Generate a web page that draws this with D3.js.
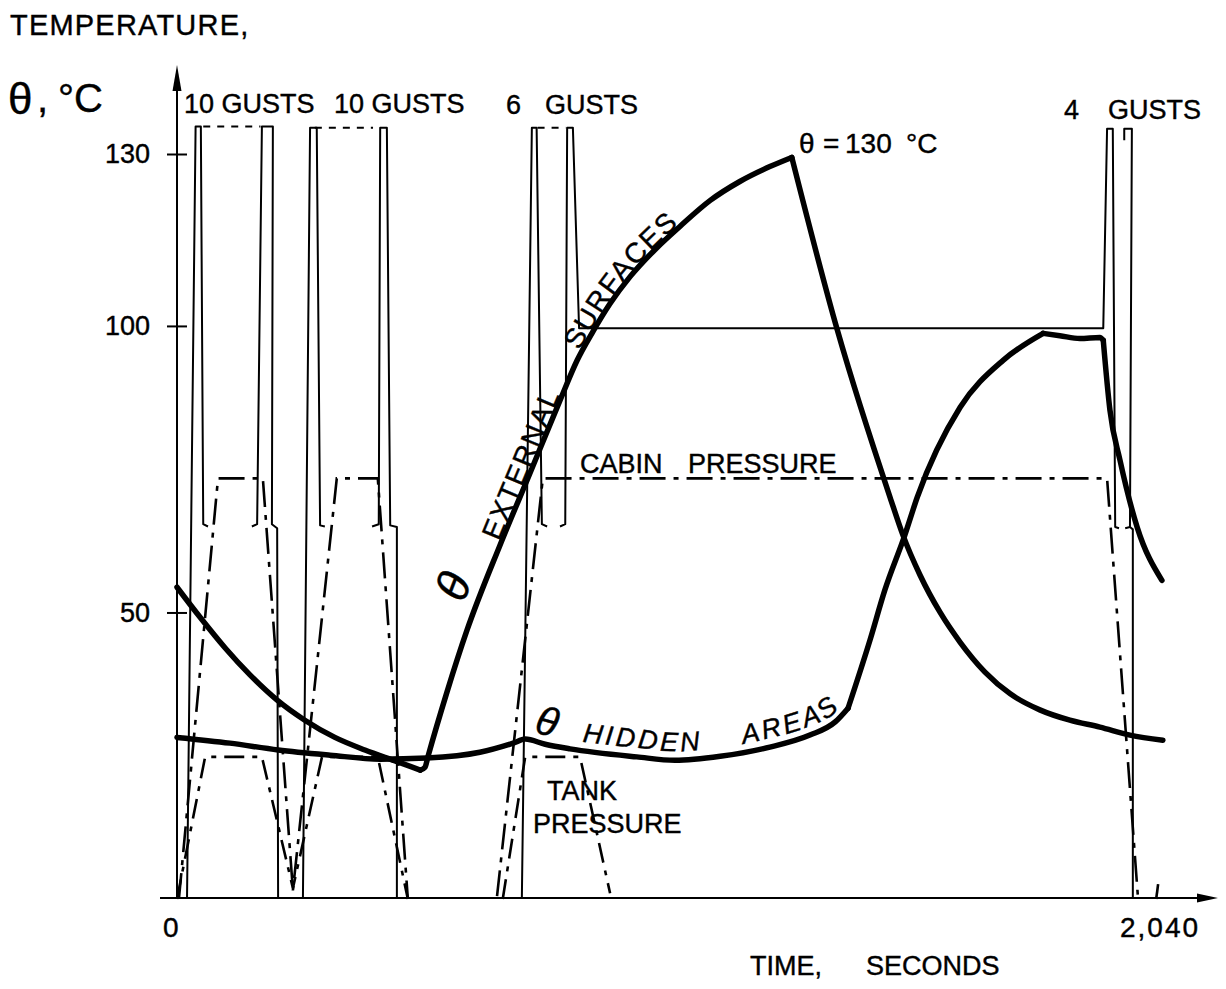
<!DOCTYPE html>
<html>
<head>
<meta charset="utf-8">
<script src="https://cdnjs.cloudflare.com/ajax/libs/d3/7.8.5/d3.min.js"></script>
<style>
  body { margin: 0; background: #fff; }
  svg { display: block; }
  text { font-family: "Liberation Sans", Arial, sans-serif; fill: #000; stroke: #000; stroke-width: 0.4px; }
</style>
</head>
<body>
<div class="chart"></div>
<script>
// Axis ticks
var timeTicks = [0, 2040];
var tempTicks = [50, 100, 130];

// Temperature curves [time s, temperature C]
var extCooling = [[0, 54.4], [48, 49.2], [101, 43.8], [153, 39.1], [210, 34.7], [268, 31.2], [331, 28.2],
  [394, 26.0], [457, 24.1], [510, 22.5]];
var extHeating = [[510, 22.5], [520, 23.0], [526, 24.8], [566, 36.1], [608, 46.9], [677, 61.7], [740, 74.3],
  [803, 87.0], [839, 94.0], [872, 99.0], [908, 103.9], [950, 108.6], [1002, 113.3], [1055, 117.4],
  [1118, 121.9], [1180, 125.2], [1243, 127.8], [1289, 129.4]];
var extFinal = [[1289, 129.4], [1384, 99.4], [1495, 70.1], [1522, 63.5], [1558, 56.5], [1600, 50.0],
  [1642, 44.8], [1694, 39.6], [1747, 35.8], [1809, 33.0], [1872, 31.2], [1935, 30.0], [1998, 28.6], [2067, 27.7]];

var hiddenA = [[0, 28.2], [111, 27.2], [212, 26.0], [321, 25.1], [426, 24.4], [524, 24.6], [635, 25.6],
  [705, 27.2], [730, 27.9], [772, 27.0], [824, 26.2], [964, 24.8], [1044, 24.2], [1139, 24.9], [1243, 26.5],
  [1327, 28.6], [1380, 30.9], [1407, 33.3]];
var hiddenB = [[1407, 33.3], [1453, 45.2], [1484, 53.9], [1526, 63.5], [1552, 70.1], [1642, 85.8], [1732, 94.0], [1816, 98.7]];
var hiddenC = [[1816, 98.7], [1851, 98.3], [1893, 97.8], [1935, 98.0], [1942, 97.5]];
var hiddenD = [[1942, 97.5], [1956, 85.3], [1977, 76.6], [2013, 64.9], [2065, 55.6]];

// Gust load envelopes (drawn on the same grid)
var gustA1 = [[21, 0], [39, 134.8], [50, 134.8], [55, 65.4], [65, 65.0]];
var gustA2 = [[157, 65.0], [168, 65.4], [178, 134.8], [201, 134.8], [199, 65.4], [210, 64.7], [212, 0]];
var gustB1 = [[264, 0], [279, 134.6], [293, 134.6], [300, 65.2], [310, 65.0]];
var gustB2 = [[409, 65.0], [423, 65.4], [426, 134.6], [440, 134.6], [447, 65.2], [461, 64.9], [461, 0]];
var gustC1 = [[723, 0], [744, 134.6], [754, 134.6], [765, 65.4], [776, 65.0]];
var gustC2 = [[803, 65.0], [814, 65.4], [818, 134.6], [830, 134.6], [843, 99.6], [1942, 99.6],
  [1950, 134.4], [1962, 134.4], [1967, 64.9], [1975, 64.7]];
var gustD2 = [[1986, 132.4], [1986, 134.4], [2002, 134.4], [1998, 64.9], [1988, 64.7]];
var gustD3 = [[1998, 64.9], [2004, 64.5], [2004, 0]];

// Repeated gusts (dashed tops)
var repeatA = [[55, 134.8], [175, 134.8]];
var repeatB = [[289, 134.6], [411, 134.6]];
var repeatC = [[756, 134.6], [815, 134.6]];

// Pressures
var cabinFlights = [[4, 0], [86, 73.4], [180, 73.4], [243, 1.5], [335, 73.4], [421, 73.4], [484, 0]];
var cabinLast = [[671, 0.5], [767, 73.4], [1950, 73.4], [2015, 0]];
var tankFlights = [[0, 0], [59, 24.8], [178, 24.8], [243, 1.9], [304, 24.8], [421, 24.8], [484, 0]];
var tankLast = [[683, 0], [730, 24.8], [845, 24.8], [908, 1]];
var tankEnd = [[2053, 0], [2057, 2.6]];

// SVG area
var svgWidth = 1226;
var svgHeight = 989;
var margin = { top: 154, right: 76, bottom: 90, left: 177 };
var width = svgWidth - margin.left - margin.right;
var height = svgHeight - margin.top - margin.bottom;

var svg = d3.select(".chart")
  .append("svg")
  .attr("width", svgWidth)
  .attr("height", svgHeight);

var chartGroup = svg.append("g")
  .attr("transform", `translate(${margin.left}, ${margin.top})`);

var x = d3.scaleLinear().domain([0, 2040]).range([0, width]);
var y = d3.scaleLinear().domain([0, 130]).range([height, 0]);

var line = d3.line().x(d => x(d[0])).y(d => y(d[1]));
var smooth = d3.line().x(d => x(d[0])).y(d => y(d[1])).curve(d3.curveMonotoneX);

// axes
var leftAxis = d3.axisLeft(y).tickValues(tempTicks).tickSize(10).tickPadding(17);
var yAxis = chartGroup.append("g").call(leftAxis);
yAxis.select(".domain").remove();
yAxis.selectAll(".tick line").attr("x1", 10).attr("stroke", "#000").attr("stroke-width", 2);
yAxis.selectAll(".tick text").style("font-size", "27px").attr("fill", "#000");

chartGroup.append("line")
  .attr("x1", 0).attr("x2", 0).attr("y1", height).attr("y2", -80)
  .attr("stroke", "#000").attr("stroke-width", 2);
chartGroup.append("path")
  .attr("d", "M0,-89 L-4.5,-63 L4.5,-63 Z").attr("fill", "#000");

chartGroup.append("line")
  .attr("x1", -17).attr("x2", x(2040) + 60).attr("y1", height - 1).attr("y2", height - 1)
  .attr("stroke", "#000").attr("stroke-width", 2);
chartGroup.append("path")
  .attr("d", `M${x(2040) + 68},${height - 1} L${x(2040) + 47},${height - 5.5} L${x(2040) + 47},${height + 3.5} Z`)
  .attr("fill", "#000");

chartGroup.selectAll(".xlab")
  .data(timeTicks)
  .enter()
  .append("text")
  .attr("class", "xlab")
  .attr("x", d => d === 0 ? x(d) - 14 : x(d) - 30)
  .attr("y", height + 38)
  .style("font-size", "28px")
  .style("letter-spacing", d => d === 0 ? "0px" : "2px")
  .text(d => d3.format(",")(d));

// gust envelopes
[gustA1, gustA2, gustB1, gustB2, gustC1, gustC2, gustD2, gustD3].forEach(function(g) {
  chartGroup.append("path")
    .attr("d", line(g))
    .attr("fill", "none").attr("stroke", "#000").attr("stroke-width", 2)
    .attr("stroke-linejoin", "round");
});
[repeatA, repeatB, repeatC].forEach(function(g) {
  chartGroup.append("path")
    .attr("d", line(g))
    .attr("fill", "none").attr("stroke", "#000").attr("stroke-width", 2)
    .attr("stroke-dasharray", "7,7");
});

// pressures
[cabinFlights, cabinLast].forEach(function(p) {
  chartGroup.append("path")
    .attr("d", line(p))
    .attr("fill", "none").attr("stroke", "#000").attr("stroke-width", 2.6)
    .attr("stroke-dasharray", "26,8,5,8");
});
[tankFlights, tankLast, tankEnd].forEach(function(p) {
  chartGroup.append("path")
    .attr("d", line(p))
    .attr("fill", "none").attr("stroke", "#000").attr("stroke-width", 2.6)
    .attr("stroke-dasharray", "20,8,5,8");
});

// temperatures
[extCooling, extHeating, extFinal, hiddenA, hiddenB, hiddenC, hiddenD].forEach(function(c) {
  chartGroup.append("path")
    .attr("d", smooth(c))
    .attr("fill", "none").attr("stroke", "#000").attr("stroke-width", 5.5)
    .attr("stroke-linecap", "round").attr("stroke-linejoin", "round");
});

// curve labels along the curves
var extGuide = d3.line().x(d => x(d[0]) - 2).y(d => y(d[1]) - 1).curve(d3.curveMonotoneX);
var hidGuide = d3.line().x(d => x(d[0])).y(d => y(d[1]) - 9).curve(d3.curveMonotoneX);
var defs = svg.append("defs");
defs.append("path").attr("id", "extGuide").attr("d", extGuide(extHeating)).attr("transform", `translate(${margin.left}, ${margin.top})`);
defs.append("path").attr("id", "hidGuide").attr("d", hidGuide(hiddenA)).attr("transform", `translate(${margin.left}, ${margin.top})`);

var pathLabels = [
  { path: "#extGuide", text: "θ", offset: 172, size: 46, italic: true, dy: -10, ls: 0 },
  { path: "#extGuide", text: "EXTERNAL", offset: 243, size: 28, italic: false, dy: 0, ls: 1.5 },
  { path: "#extGuide", text: "SURFACES", offset: 450, size: 28, italic: false, dy: 0, ls: 1.5 },
  { path: "#hidGuide", text: "θ", offset: 360, size: 40, italic: true, dy: 0, ls: 0 },
  { path: "#hidGuide", text: "HIDDEN", offset: 410, size: 27, italic: true, dy: 0, ls: 3 },
  { path: "#hidGuide", text: "AREAS", offset: 572, size: 27, italic: true, dy: 0, ls: 3 }
];
var curveText = chartGroup.append("g").attr("transform", `translate(${-margin.left}, ${-margin.top})`);
pathLabels.forEach(function(l) {
  curveText.append("text")
    .attr("dy", l.dy)
    .style("font-size", l.size + "px")
    .style("font-style", l.italic ? "italic" : "normal")
    .style("letter-spacing", l.ls + "px")
    .append("textPath")
    .attr("href", l.path)
    .attr("startOffset", l.offset)
    .text(l.text);
});

// titles and labels
function label(t, px, py, size, extra) {
  var el = svg.append("text").attr("x", px).attr("y", py).style("font-size", size + "px").text(t);
  if (extra) el.style("letter-spacing", extra);
  return el;
}
label("TEMPERATURE,", 10, 35, 29, "1.2px");
label("θ", 8, 114, 44);
label(",", 37, 112, 40);
label("°C", 58, 112, 40);
label("10 GUSTS", 184, 113, 27);
label("10 GUSTS", 334, 113, 27);
label("6", 506, 114, 27);
label("GUSTS", 545, 114, 27);
label("4", 1064, 119, 27);
label("GUSTS", 1108, 119, 27);
var peak = svg.append("text").attr("y", 153).style("font-size", "28px");
peak.append("tspan").attr("x", 799).text("θ");
peak.append("tspan").attr("x", 823).text("=");
peak.append("tspan").attr("x", 845).text("130");
peak.append("tspan").attr("x", 906).text("°C");
label("CABIN", 580, 473, 27);
label("PRESSURE", 688, 473, 27);
label("TANK", 547, 800, 27);
label("PRESSURE", 533, 833, 27);
label("TIME,", 750, 975, 27);
label("SECONDS", 866, 975, 27);
</script>
</body>
</html>
